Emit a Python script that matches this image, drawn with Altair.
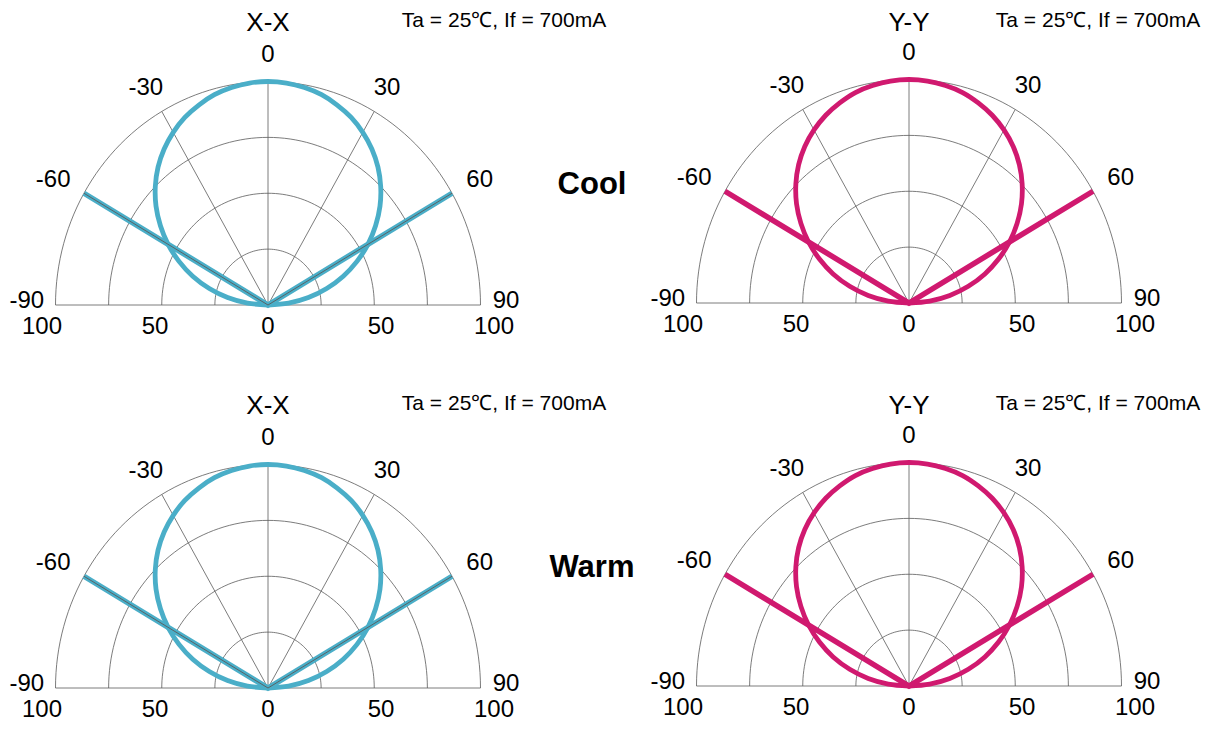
import altair as alt
import pandas as pd

# ---------------- data ----------------
angles = list(range(-90, 91, 5))
cool_xx = [0, 9.7, 19.3, 28.6, 37.7, 46.2, 54.3, 61.8, 68.8, 75.0, 80.5, 85.2, 89.2, 92.6, 95.2, 97.4, 98.8, 99.7,
           100,
           99.7, 98.8, 97.4, 95.2, 92.6, 89.2, 85.2, 80.5, 75.0, 68.8, 61.8, 54.3, 46.2, 37.7, 28.6, 19.3, 9.7, 0]
cool_yy = [0, 9.8, 19.5, 28.9, 38.0, 46.5, 54.6, 62.1, 69.1, 75.3, 80.8, 85.5, 89.4, 92.7, 95.3, 97.5, 98.8, 99.7,
           100,
           99.7, 98.8, 97.5, 95.3, 92.7, 89.4, 85.5, 80.8, 75.3, 69.1, 62.1, 54.6, 46.5, 38.0, 28.9, 19.5, 9.8, 0]
warm_xx = [0, 9.7, 19.3, 28.6, 37.7, 46.2, 54.3, 61.8, 68.8, 75.0, 80.5, 85.2, 89.2, 92.6, 95.2, 97.4, 98.8, 99.7,
           100,
           99.7, 98.8, 97.4, 95.2, 92.6, 89.2, 85.2, 80.5, 75.0, 68.8, 61.8, 54.3, 46.2, 37.7, 28.6, 19.3, 9.7, 0]
warm_yy = [0, 9.8, 19.5, 28.9, 38.0, 46.5, 54.6, 62.1, 69.1, 75.3, 80.8, 85.5, 89.4, 92.7, 95.3, 97.5, 98.8, 99.7,
           100,
           99.7, 98.8, 97.5, 95.3, 92.7, 89.4, 85.5, 80.8, 75.3, 69.1, 62.1, 54.6, 46.5, 38.0, 28.9, 19.5, 9.8, 0]

beam_angles = [-60, 0, 60]
beam_cool_xx = [100, 0, 100]
beam_cool_yy = [100, 0, 100]
beam_warm_xx = [100, 0, 100]
beam_warm_yy = [100, 0, 100]

ring_radii = [25, 50, 75, 100]
spoke_angles = [-90, -60, -30, 0, 30, 60, 90]
angle_labels = [-90, -60, -30, 0, 30, 60, 90]
radial_ticks = [-100, -50, 0, 50, 100]
radial_tick_labels = ["100", "50", "0", "50", "100"]
panel_titles = ["X-X", "Y-Y"]
condition_text = "Ta = 25℃, If = 700mA"
row_labels = ["Cool", "Warm"]

# ---------------- style / layout ----------------
BLUE = "#4aaec8"
MAGENTA = "#d0196f"
GRID = "#5a5a5a"
FONT = "Liberation Sans"
HX = 2.125   # px per unit horizontally
VY = 2.235   # px per unit vertically
LX = 2.26    # px per unit for radial tick labels
CX = 260     # centre offset inside each panel (px)

sweep = list(range(-90, 91, 2))
ring_df = pd.DataFrame([{"g": r, "a": a, "r": r, "o": i}
                        for r in ring_radii for i, a in enumerate(sweep)])
spoke_df = pd.DataFrame([{"g": a, "a": a, "r": r, "o": k}
                         for a in spoke_angles for k, r in enumerate([0, 100])])
top_spoke_df = spoke_df[spoke_df["a"].abs() == 60]
alab_df = pd.DataFrame({"a": angle_labels, "t": [str(v) for v in angle_labels]})
rlab_df = pd.DataFrame({"v": radial_ticks, "t": radial_tick_labels})

CALC = dict(px="datum.r * sin(datum.a * PI / 180)",
            py="datum.r * cos(datum.a * PI / 180)")


def panel(title, curve_vals, beam_vals, color, spoke_on_top, width, height,
          base_px, ta_dx, title_up, side_label=None):
    xdom = [-CX / HX, (width - CX) / HX]
    ydom = [-(height - base_px) / VY, base_px / VY]
    ldom = [-CX / LX, (width - CX) / LX]
    X = lambda f: alt.X(f, type="quantitative", axis=None,
                        scale=alt.Scale(domain=xdom, nice=False, zero=False))
    Y = lambda f: alt.Y(f, type="quantitative", axis=None,
                        scale=alt.Scale(domain=ydom, nice=False, zero=False))

    curve_df = pd.DataFrame({"a": angles, "r": curve_vals, "o": range(len(angles)), "g": 0})
    beam_df = pd.DataFrame({"a": beam_angles, "r": beam_vals, "o": range(len(beam_angles)), "g": 0})

    def lines(df, **mk):
        return alt.Chart(df).mark_line(**mk).transform_calculate(**CALC).encode(
            x=X("px"), y=Y("py"), detail="g:N", order="o:Q")

    layers = [
        lines(ring_df, color=GRID, strokeWidth=0.8),
        lines(spoke_df, color=GRID, strokeWidth=0.8),
        lines(curve_df, color=color, strokeWidth=4.8, interpolate="catmull-rom"),
        lines(beam_df, color=color, strokeWidth=5.5),
    ]
    if spoke_on_top:
        layers.append(lines(top_spoke_df, color=GRID, strokeWidth=0.9))

    # angle labels
    layers.append(
        alt.Chart(alab_df).mark_text(font=FONT, fontSize=24, color="black",
                                     align="center", baseline="middle")
        .transform_calculate(
            px="(abs(datum.a) == 60 ? 115 : 112) * sin(datum.a * PI / 180) + (datum.a < 0 ? -1.5 : 0)",
            py="112 * cos(datum.a * PI / 180) + (abs(datum.a) == 90 ? 1.8 : 0)")
        .encode(x=X("px"), y=Y("py"), text="t:N"))
    # radial labels
    layers.append(
        alt.Chart(rlab_df).mark_text(font=FONT, fontSize=24, color="black",
                                     align="center", baseline="middle", dy=22)
        .encode(x=alt.X("v:Q", axis=None,
                        scale=alt.Scale(domain=ldom, nice=False, zero=False)),
                y=alt.datum(0, scale=alt.Scale(domain=ydom, nice=False, zero=False)),
                text="t:N"))
    # title + conditions
    layers.append(alt.Chart(pd.DataFrame({"t": [title]})).mark_text(
        font=FONT, fontSize=26, color="black", align="center", baseline="middle")
        .encode(x=alt.value(CX), y=alt.value(base_px - title_up), text="t:N"))
    layers.append(alt.Chart(pd.DataFrame({"t": [condition_text]})).mark_text(
        font=FONT, fontSize=21, color="black", align="center", baseline="middle")
        .encode(x=alt.value(CX + ta_dx), y=alt.value(base_px - title_up - 2), text="t:N"))
    if side_label:
        layers.append(alt.Chart(pd.DataFrame({"t": [side_label]})).mark_text(
            font=FONT, fontSize=31, fontWeight="bold", color="black",
            align="center", baseline="middle")
            .encode(x=alt.value(CX + 324), y=alt.value(base_px - 120), text="t:N"))

    return alt.layer(*layers).resolve_scale(x="independent").properties(
        width=width, height=height)


W_LEFT, W_RIGHT = 641, 559
H1, H2 = 383, 326

row1 = alt.hconcat(
    panel(panel_titles[0], cool_xx, beam_cool_xx, BLUE, True, W_LEFT, H1, 297, 236, 282, row_labels[0]),
    panel(panel_titles[1], cool_yy, beam_cool_yy, MAGENTA, False, W_RIGHT, H1, 295, 189, 280),
    spacing=0)
row2 = alt.hconcat(
    panel(panel_titles[0], warm_xx, beam_warm_xx, BLUE, True, W_LEFT, H2, 297, 236, 282, row_labels[1]),
    panel(panel_titles[1], warm_yy, beam_warm_yy, MAGENTA, False, W_RIGHT, H2, 295, 189, 280),
    spacing=0)

chart = alt.vconcat(row1, row2, spacing=0).properties(
    padding=0, background="white"
).configure_view(stroke=None).configure_concat(spacing=0)

chart.save("out.html", embed_options={"renderer": "svg", "actions": False})
